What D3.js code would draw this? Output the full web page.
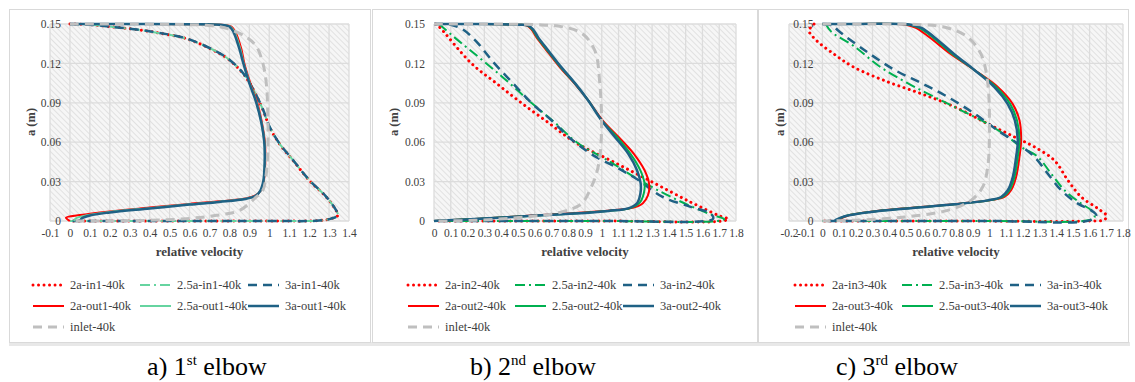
<!DOCTYPE html>
<html>
<head>
<meta charset="utf-8">
<script src="https://cdn.jsdelivr.net/npm/d3@7"></script>
<style>
  body { margin: 0; background: #fff; }
  svg text { font-family: 'Liberation Serif', 'Times New Roman', 'DejaVu Serif', serif; }
</style>
</head>
<body>
<svg id="chart" width="1135" height="382"></svg>
<script>
// ---- data: [relative velocity, a (m)] ----
const yTicks = [0, 0.03, 0.06, 0.09, 0.12, 0.15];
const xTicksA = [-0.1, 0, 0.1, 0.2, 0.3, 0.4, 0.5, 0.6, 0.7, 0.8, 0.9, 1, 1.1, 1.2, 1.3, 1.4];
const xTicksB = [0, 0.1, 0.2, 0.3, 0.4, 0.5, 0.6, 0.7, 0.8, 0.9, 1, 1.1, 1.2, 1.3, 1.4, 1.5, 1.6, 1.7, 1.8];
const xTicksC = [-0.2, -0.1, 0, 0.1, 0.2, 0.3, 0.4, 0.5, 0.6, 0.7, 0.8, 0.9, 1, 1.1, 1.2, 1.3, 1.4, 1.5, 1.6, 1.7, 1.8];

// 1st elbow
const in2a1 = [[0,0.15],[0.1,0.1495],[0.2,0.148],[0.35,0.1455],[0.45,0.143],[0.58,0.139],[0.72,0.13],[0.8,0.1225],[0.87,0.112],[0.92,0.1],[0.97,0.084],[1.0,0.072],[1.05,0.059],[1.12,0.046],[1.2,0.031],[1.285,0.0184],[1.335,0.0081],[1.344,0.0043],[1.31,0.0018],[1.25,0.0003],[1.0,0],[0.5,0],[0,0]];
const in25a1 = [[0,0.15],[0.1,0.1495],[0.2,0.148],[0.35,0.1455],[0.45,0.143],[0.58,0.139],[0.72,0.1302],[0.8,0.1227],[0.87,0.1122],[0.92,0.1002],[0.97,0.0842],[1.0,0.0722],[1.05,0.0592],[1.12,0.0462],[1.2,0.0312],[1.285,0.0185],[1.335,0.0082],[1.344,0.0043],[1.31,0.0018],[1.25,0.0003],[1.0,0],[0.5,0],[0,0]];
const in3a1 = [[0,0.15],[0.1,0.1495],[0.2,0.148],[0.35,0.1455],[0.45,0.1432],[0.58,0.1392],[0.72,0.1303],[0.8,0.1228],[0.87,0.1123],[0.92,0.1003],[0.97,0.0843],[1.0,0.0723],[1.05,0.0593],[1.12,0.0463],[1.2,0.0313],[1.285,0.0186],[1.335,0.0083],[1.345,0.0044],[1.31,0.0018],[1.25,0.0003],[1.0,0],[0.5,0],[0,0]];
const out2a1 = [[0,0.15],[0.3,0.15],[0.6,0.1498],[0.76,0.1494],[0.81,0.148],[0.83,0.144],[0.86,0.131],[0.875,0.12],[0.905,0.105],[0.94,0.09],[0.963,0.075],[0.978,0.06],[0.98,0.045],[0.972,0.03],[0.957,0.023],[0.93,0.0195],[0.88,0.0172],[0.75,0.015],[0.6,0.013],[0.4,0.0102],[0.2,0.0073],[0.05,0.0045],[-0.02,0.0025],[-0.01,0.001],[0,0]];
const out25a1 = [[0,0.15],[0.3,0.15],[0.6,0.1498],[0.755,0.1494],[0.805,0.148],[0.825,0.144],[0.855,0.131],[0.872,0.12],[0.902,0.105],[0.937,0.09],[0.961,0.075],[0.976,0.06],[0.978,0.045],[0.971,0.03],[0.956,0.023],[0.93,0.0192],[0.88,0.017],[0.75,0.0147],[0.6,0.0127],[0.4,0.0098],[0.2,0.0069],[0.08,0.0042],[0.03,0.002],[0.02,0]];
const out3a1 = [[0,0.15],[0.3,0.15],[0.6,0.1498],[0.75,0.1494],[0.8,0.148],[0.82,0.144],[0.85,0.131],[0.87,0.12],[0.9,0.105],[0.935,0.09],[0.96,0.075],[0.975,0.06],[0.977,0.045],[0.97,0.03],[0.955,0.023],[0.93,0.019],[0.88,0.0168],[0.75,0.0145],[0.6,0.0125],[0.4,0.0095],[0.2,0.0065],[0.1,0.0042],[0.06,0.002],[0.05,0]];
const inlet1 = [[0,0.15],[0.3,0.15],[0.6,0.1495],[0.685,0.149],[0.785,0.1467],[0.885,0.14],[0.935,0.133],[0.968,0.12],[0.985,0.105],[0.993,0.08],[0.993,0.055],[0.985,0.036],[0.968,0.0234],[0.935,0.0183],[0.851,0.0081],[0.735,0.0043],[0.584,0.0018],[0.4,0.0005],[0.15,0],[0,0]];

// 2nd elbow
const in2a2 = [[0.01,0.15],[0.03,0.148],[0.223,0.12],[0.37,0.105],[0.52,0.09],[0.68,0.075],[0.84,0.06],[1.07,0.045],[1.296,0.03],[1.52,0.015],[1.7,0.004],[1.753,0.0015],[1.72,0],[1.0,0],[0,0]];
const in25a2 = [[0.03,0.15],[0.12,0.14],[0.312,0.12],[0.45,0.105],[0.58,0.09],[0.72,0.075],[0.85,0.06],[1.05,0.045],[1.24,0.03],[1.45,0.016],[1.65,0.005],[1.73,0.0015],[1.69,0],[1.0,0],[0,0]];
const in3a2 = [[0,0.15],[0.1,0.1495],[0.17,0.146],[0.25,0.137],[0.36,0.12],[0.47,0.105],[0.58,0.09],[0.7,0.0767],[0.82,0.062],[0.95,0.05],[1.1,0.04],[1.22,0.031],[1.36,0.0185],[1.53,0.0108],[1.65,0.0056],[1.664,0.0018],[1.62,0],[1.0,0],[0,0]];
const out2a2 = [[0,0.15],[0.3,0.15],[0.5,0.1495],[0.55,0.149],[0.58,0.146],[0.61,0.14],[0.67,0.13],[0.75,0.117],[0.835,0.105],[0.918,0.092],[1.005,0.0767],[1.1,0.064],[1.19,0.0513],[1.255,0.0386],[1.283,0.0275],[1.275,0.0195],[1.245,0.0135],[1.19,0.0102],[1.06,0.0082],[0.84,0.006],[0.54,0.0038],[0.243,0.0016],[0.044,0.0004],[0,0]];
const out25a2 = [[0,0.15],[0.3,0.15],[0.5,0.1495],[0.555,0.149],[0.585,0.146],[0.615,0.14],[0.675,0.13],[0.755,0.117],[0.838,0.105],[0.918,0.092],[1.0,0.0767],[1.09,0.064],[1.17,0.0513],[1.23,0.0386],[1.255,0.0284],[1.25,0.0208],[1.225,0.0138],[1.17,0.0098],[1.05,0.0078],[0.84,0.0058],[0.54,0.0037],[0.243,0.0016],[0.044,0.0004],[0,0]];
const out3a2 = [[0,0.15],[0.3,0.15],[0.5,0.1495],[0.56,0.149],[0.59,0.146],[0.62,0.14],[0.68,0.13],[0.76,0.117],[0.84,0.105],[0.918,0.092],[0.998,0.0767],[1.078,0.064],[1.157,0.0513],[1.21,0.0386],[1.232,0.0284],[1.23,0.0208],[1.21,0.0135],[1.157,0.0096],[1.04,0.0077],[0.84,0.0057],[0.54,0.0036],[0.243,0.0015],[0.044,0.0004],[0,0]];
const inlet2 = [[0,0.15],[0.3,0.15],[0.6,0.1495],[0.76,0.148],[0.88,0.143],[0.958,0.13],[0.988,0.105],[0.998,0.0665],[0.978,0.041],[0.938,0.026],[0.879,0.0132],[0.76,0.0069],[0.54,0.003],[0.24,0.0005],[0,0]];

// 3rd elbow
const in2a3 = [[-0.05,0.15],[-0.08,0.145],[-0.04,0.138],[0.07,0.127],[0.19,0.117],[0.39,0.106],[0.59,0.097],[0.79,0.087],[0.99,0.074],[1.15,0.064],[1.27,0.0564],[1.39,0.046],[1.47,0.031],[1.55,0.0183],[1.65,0.0094],[1.7,0.0043],[1.69,0.001],[1.6,0],[0.8,0],[0,0]];
const in25a3 = [[0.02,0.15],[0.054,0.144],[0.19,0.133],[0.35,0.117],[0.51,0.105],[0.67,0.0945],[0.83,0.0843],[0.99,0.074],[1.11,0.064],[1.19,0.0564],[1.29,0.0488],[1.37,0.036],[1.45,0.0234],[1.55,0.0132],[1.61,0.0081],[1.63,0.003],[1.59,0.0005],[1.0,0],[0,0]];
const in3a3 = [[0,0.15],[0.06,0.149],[0.094,0.145],[0.253,0.13],[0.433,0.115],[0.593,0.105],[0.75,0.0945],[0.91,0.0818],[1.05,0.069],[1.17,0.0589],[1.27,0.0488],[1.35,0.036],[1.43,0.0234],[1.53,0.0132],[1.61,0.0081],[1.64,0.0043],[1.6,0.0005],[1.0,0],[0,0]];
const out2a3 = [[0,0.15],[0.2,0.15],[0.5,0.1495],[0.56,0.147],[0.64,0.14],[0.77,0.127],[0.91,0.115],[1.05,0.102],[1.14,0.089],[1.18,0.0767],[1.19,0.0615],[1.18,0.0488],[1.16,0.0335],[1.13,0.0234],[1.09,0.0183],[1.01,0.016],[0.8,0.013],[0.5,0.0097],[0.3,0.0072],[0.15,0.004],[0.09,0.0005]];
const out25a3 = [[0,0.15],[0.2,0.15],[0.52,0.1495],[0.58,0.147],[0.66,0.14],[0.78,0.127],[0.91,0.115],[1.04,0.102],[1.125,0.089],[1.165,0.0767],[1.18,0.0615],[1.17,0.0488],[1.15,0.0335],[1.12,0.0234],[1.08,0.0183],[1.0,0.0158],[0.795,0.0128],[0.495,0.0095],[0.295,0.007],[0.14,0.0038],[0.08,0.0005]];
const out3a3 = [[0,0.15],[0.2,0.15],[0.53,0.1495],[0.593,0.147],[0.67,0.14],[0.79,0.127],[0.91,0.115],[1.03,0.102],[1.11,0.089],[1.152,0.0767],[1.17,0.0615],[1.16,0.0488],[1.14,0.0335],[1.11,0.0234],[1.07,0.0183],[0.99,0.0157],[0.79,0.0127],[0.49,0.0094],[0.29,0.0069],[0.134,0.0036],[0.074,0.0005]];
const inlet3 = [[0,0.15],[0.3,0.15],[0.59,0.1495],[0.75,0.147],[0.87,0.14],[0.95,0.127],[0.99,0.105],[1.0,0.0666],[0.99,0.041],[0.96,0.026],[0.89,0.0157],[0.75,0.0081],[0.49,0.003],[0.19,0.0005],[0,0]];

const captions = [["a) 1", "st", " elbow"], ["b) 2", "nd", " elbow"], ["c) 3", "rd", " elbow"]];

// ---- layout ----
const panels = [
  { box: [9, 371], plot: [50, 349], xDomain: [-0.1, 1.4], xTicks: xTicksA, green: "#66d4a0", n: 1, legendX: 0, cap: 207,
    series: [in2a1, in25a1, in3a1, out2a1, out25a1, out3a1, inlet1] },
  { box: [372, 758], plot: [434, 736], xDomain: [0, 1.8], xTicks: xTicksB, green: "#00b050", n: 2, legendX: 375, cap: 533,
    series: [in2a2, in25a2, in3a2, out2a2, out25a2, out3a2, inlet2] },
  { box: [758, 1129], plot: [789, 1123], xDomain: [-0.2, 1.8], xTicks: xTicksC, green: "#00b050", n: 3, legendX: 762, cap: 897,
    series: [in2a3, in25a3, in3a3, out2a3, out25a3, out3a3, inlet3] }
];

const blue = "#1f6185", red = "#ff0000", grey = "#bfbfbf";
const styles = g => [
  { name: "2a-in", color: red, w: 3, dash: "0.01 5.5", cap: "round" },
  { name: "2.5a-in", color: g, w: 2, dash: "10 4 2 4" },
  { name: "3a-in", color: blue, w: 2.5, dash: "9 6" },
  { name: "2a-out", color: red, w: 2 },
  { name: "2.5a-out", color: g, w: 2 },
  { name: "3a-out", color: blue, w: 2.5 },
  { name: "inlet", color: grey, w: 3, dash: "9 6" }
];

const yTop = 24, yBot = 221;
const fmt = v => String(+v.toFixed(2));
const svg = d3.select("#chart");

const defs = svg.append("defs");
defs.append("pattern")
  .attr("id", "hatch").attr("patternUnits", "userSpaceOnUse")
  .attr("width", 4).attr("height", 4)
  .attr("patternTransform", "rotate(-45)")
  .call(p => p.append("rect").attr("width", 4).attr("height", 4).attr("fill", "#f6f6f6"))
  .append("line").attr("x1", 0).attr("y1", 0).attr("x2", 0).attr("y2", 4)
  .attr("stroke", "#d4d4d4").attr("stroke-width", 1.2);

// grey strip under the panels
svg.append("rect").attr("x", 9).attr("y", 342).attr("width", 1121).attr("height", 4).attr("fill", "#e8e8e8");

panels.forEach(p => {
  const st = styles(p.green);
  const g = svg.append("g");

  g.append("rect")
    .attr("x", p.box[0] + 0.5).attr("y", 9.5)
    .attr("width", p.box[1] - p.box[0] - 1).attr("height", 333)
    .attr("fill", "#fff").attr("stroke", "#d9d9d9");

  const x = d3.scaleLinear().domain(p.xDomain).range(p.plot);
  const y = d3.scaleLinear().domain([0, 0.15]).range([yBot, yTop]);

  g.append("rect")
    .attr("x", p.plot[0]).attr("y", yTop)
    .attr("width", p.plot[1] - p.plot[0]).attr("height", yBot - yTop)
    .attr("fill", "url(#hatch)");

  // grid
  g.append("g").selectAll("line").data(p.xTicks).join("line")
    .attr("x1", d => x(d)).attr("x2", d => x(d))
    .attr("y1", yTop).attr("y2", yBot)
    .attr("stroke", "#dcdcdc").attr("stroke-width", 1.3);
  g.append("g").selectAll("line").data(yTicks).join("line")
    .attr("x1", p.plot[0]).attr("x2", p.plot[1])
    .attr("y1", d => y(d)).attr("y2", d => y(d))
    .attr("stroke", "#dcdcdc").attr("stroke-width", 1.3);

  // axes (labels only); the value axis sits at x = 0 like Excel's default crossing
  const xa = g.append("g").attr("transform", `translate(0,${yBot})`)
    .call(d3.axisBottom(x).tickValues(p.xTicks).tickFormat(fmt).tickSize(0).tickPadding(8));
  xa.attr("font-size", 11.5);
  xa.select(".domain").remove();
  xa.selectAll("text").attr("fill", "#404040");

  const ya = g.append("g").attr("transform", `translate(${x(0)},0)`)
    .call(d3.axisLeft(y).tickValues(yTicks).tickFormat(fmt).tickSize(0).tickPadding(9));
  ya.attr("font-size", 11.5);
  ya.select(".domain").remove();
  ya.selectAll("text").attr("fill", "#404040");

  g.append("text")
    .attr("transform", `translate(${p.box[0] + 26},122) rotate(-90)`)
    .attr("text-anchor", "middle").attr("font-size", 12.5).attr("font-weight", "bold")
    .attr("fill", "#404040")
    .text("a (m)");
  g.append("text")
    .attr("x", (p.plot[0] + p.plot[1]) / 2).attr("y", 256)
    .attr("text-anchor", "middle").attr("font-size", 13).attr("font-weight", "bold")
    .attr("fill", "#404040")
    .text("relative velocity");

  // curves
  const line = d3.line().x(d => x(d[0])).y(d => y(d[1])).curve(d3.curveCatmullRom.alpha(0.5));
  p.series.forEach((data, i) => {
    const s = st[i];
    g.append("path").datum(data)
      .attr("d", line)
      .attr("fill", "none")
      .attr("stroke", s.color)
      .attr("stroke-width", s.w)
      .attr("stroke-dasharray", s.dash || null)
      .attr("stroke-linecap", s.cap || "butt")
      .attr("stroke-linejoin", "round");
  });

  // legend
  const cols = [[33, 70], [140, 177], [248, 285]];
  const rows = [285, 306, 327];
  st.forEach((s, i) => {
    const col = i === 6 ? cols[0] : cols[i % 3];
    const row = rows[Math.floor(i / 3)];
    const lx = p.legendX + col[0];
    g.append("line")
      .attr("x1", lx).attr("x2", lx + 31)
      .attr("y1", row).attr("y2", row)
      .attr("stroke", s.color).attr("stroke-width", s.w)
      .attr("stroke-dasharray", s.dash || null)
      .attr("stroke-linecap", s.cap || "butt");
    g.append("text")
      .attr("x", p.legendX + col[1]).attr("y", row + 4)
      .attr("font-size", 12.5).attr("fill", "#404040")
      .text(i === 6 ? "inlet-40k" : `${s.name}${p.n}-40k`);
  });

  // caption
  const c = captions[p.n - 1];
  const t = svg.append("text")
    .attr("x", p.cap).attr("y", 375).attr("text-anchor", "middle")
    .attr("font-size", 26).attr("fill", "#000");
  t.append("tspan").text(c[0]);
  t.append("tspan").attr("font-size", 15).attr("dy", -10).text(c[1]);
  t.append("tspan").attr("dy", 10).text(c[2]);
});
</script>
</body>
</html>
